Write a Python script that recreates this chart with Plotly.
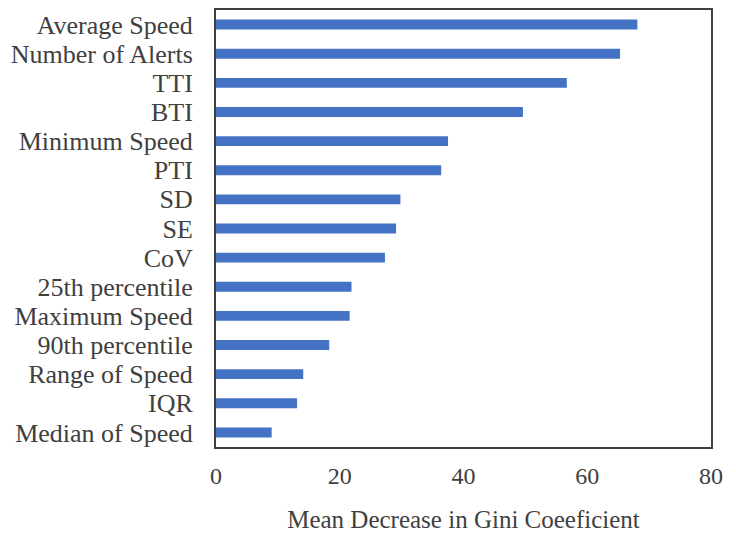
import plotly.graph_objects as go

categories = ["Average Speed", "Number of Alerts", "TTI", "BTI", "Minimum Speed", "PTI",
              "SD", "SE", "CoV", "25th percentile", "Maximum Speed", "90th percentile",
              "Range of Speed", "IQR", "Median of Speed"]
values = [68.1, 65.3, 56.7, 49.6, 37.5, 36.4, 29.8, 29.1, 27.3, 21.9, 21.6, 18.3, 14.1, 13.1, 9.0]
x_ticks = [0, 20, 40, 60, 80]

font_family = "Liberation Serif, Times New Roman, serif"
text_color = "#404040"

fig = go.Figure(go.Bar(
    y=categories, x=values, orientation="h",
    marker=dict(color="#4472C4", line=dict(width=0)),
    width=0.34,
))

fig.update_layout(
    width=728, height=525,
    margin=dict(l=208, r=25, t=2, b=86),
    paper_bgcolor="white", plot_bgcolor="white",
    font=dict(family=font_family, color=text_color),
    showlegend=False,
    xaxis=dict(
        range=[0, 80], tickmode="array", tickvals=x_ticks, ticks="", showgrid=False, zeroline=False,
        showline=True, linecolor="#404040", linewidth=2, mirror=True, automargin=False,
        tickfont=dict(size=24, family=font_family, color=text_color),
        ticklabelstandoff=6,
        title=dict(text="Mean Decrease in Gini Coeeficient",
                   font=dict(size=25, family=font_family, color=text_color), standoff=23),
    ),
    yaxis=dict(
        categoryorder="array", categoryarray=categories,
        tickmode="array", tickvals=categories, ticktext=categories,
        range=[14.5, -0.5], ticks="", showgrid=False, zeroline=False,
        showline=True, linecolor="#404040", linewidth=2, mirror=True, automargin=False,
        tickfont=dict(size=26, family=font_family, color=text_color),
        ticklabelstandoff=16,
    ),
)

fig.write_html("out.html")
